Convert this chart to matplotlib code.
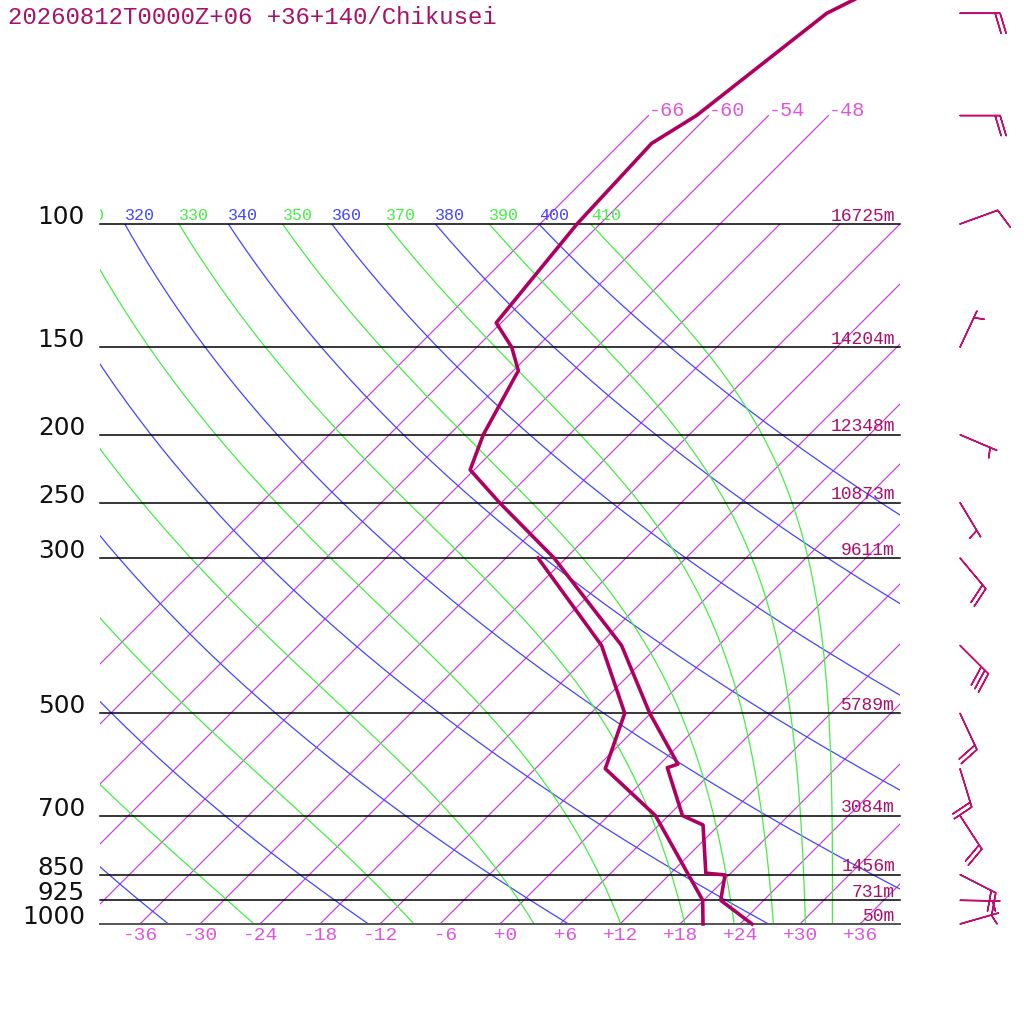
import numpy as np
import matplotlib
matplotlib.use("Agg")
import matplotlib.pyplot as plt
from matplotlib.transforms import Bbox, TransformedBbox

# ---------------- data ----------------
title = "20260812T0000Z+06 +36+140/Chikusei"

# temperature profile (hPa, degC)
temp_p = [1000, 925, 851, 846, 722, 700, 598, 591, 500, 400, 300, 250,
          224.5, 200, 162, 150, 138.4, 100, 76.7, 70, 50, 40]
temp_t = [25.2, 19.7, 17.6, 15.5, 10.4, 7.4, 1.1, 1.8, -6.1, -15.7, -31.2, -42.2,
          -48.4, -50.6, -53.5, -56.5, -60.5, -62.3, -62.9, -61.2, -58.4, -51.6]

# dew point profile (hPa, degC)
dew_p = [1000, 925, 700, 600, 500, 400, 300]
dew_t = [20.3, 17.9, 4.7, -5.0, -8.6, -17.7, -32.8]

# standard levels and geopotential heights (m)
level_p = [1000, 925, 850, 700, 500, 300, 250, 200, 150, 100]
level_h = [50, 731, 1456, 3084, 5789, 9611, 10873, 12348, 14204, 16725]

# winds: direction (deg, from), speed (kt)
wind_p = [1000, 925, 850, 700, 600, 500, 400, 300, 250, 200, 150, 100, 70, 50]
wind_dir = [74, 91, 117, 147, 163, 155, 135, 140, 149, 113, 25, 70, 90, 90]
wind_spd = [5, 5, 20, 20, 20, 20, 30, 20, 5, 5, 5, 10, 20, 20]

# diagram reference lines
isotherms = list(range(-66, 37, 6))
upper_isotherms = [-66, -60, -54, -48]
dry_thetas = list(range(240, 401, 20))
moist_thetas = list(range(250, 411, 20))
temp_ticks = list(range(-36, 37, 6))

# ---------------- styles ----------------
C_ISO = "#c83cdc"
C_ISO_TXT = "#dd55dd"
C_DRY = "#4444ff"
C_MOIST = "#44ee44"
C_PROF = "#b0005f"
C_BARB = "#c0106f"
C_TXT = "#a8106a"
MONO = "Liberation Mono"

W = H = 1024
fig = plt.figure(figsize=(10.24, 10.24), dpi=100)
ax = fig.add_axes([100 / W, (H - 924) / H, 800 / W, 700 / H])
ax.set_xlim(-40, 40)
ax.set_yscale("log")
ax.set_ylim(1000, 100)
ax.axis("off")

SK = 70.0


def skx(t, p):
    return np.asarray(t, float) + SK * np.log10(1000.0 / np.asarray(p, float))


pgrid = np.logspace(3, 2, 300)
clipbox = TransformedBbox(Bbox([[100 / W, 0], [900 / W, 1]]), fig.transFigure)


def top_label(text, x100, color):
    if x100 < -44:
        return
    txt = ax.annotate(text, xy=(x100, 100), xytext=(0, 3),
                      textcoords="offset points", ha="left", va="baseline",
                      color=color, fontsize=12, family=MONO, annotation_clip=False)
    txt.set_clip_box(clipbox)
    txt.set_clip_on(True)


# isotherms
for t in isotherms:
    ax.plot(skx([t, t], [1000, 100]), [1000, 100], color=C_ISO, lw=0.85, zorder=1)
for t in upper_isotherms:
    ax.plot(skx([t, t], [100, 70]), [100, 70], color=C_ISO, lw=0.85, zorder=1,
            clip_on=False)
    ax.annotate(f"{t:+d}", xy=(skx(t, 70), 70), xytext=(0, 0),
                textcoords="offset points", ha="left", va="baseline",
                color=C_ISO_TXT, fontsize=14.5, family=MONO, annotation_clip=False)

# dry adiabats
for th in dry_thetas:
    tt = th * (pgrid / 1000.0) ** 0.286 - 273.15
    ax.plot(skx(tt, pgrid), pgrid, color=C_DRY, lw=0.9, zorder=2)
    top_label(str(th), float(skx(th * 0.1 ** 0.286 - 273.15, 100)), C_DRY)


# pseudo-adiabats (Bolton theta-e)
def theta_e_sat(tc, p):
    tk = tc + 273.15
    es = 6.112 * np.exp(17.67 * tc / (tc + 243.5))
    r = 622.0 * es / (p - es)
    return tk * (1000.0 / p) ** (0.2854 * (1 - 0.00028 * r)) * \
        np.exp((3.376 / tk - 0.00254) * r * (1 + 0.00081 * r))


def moist_T(the, p):
    lo = np.full_like(p, -140.0)
    hi = np.full_like(p, 40.0)
    for _ in range(60):
        mid = 0.5 * (lo + hi)
        f = theta_e_sat(mid, p) > the
        hi = np.where(f, mid, hi)
        lo = np.where(f, lo, mid)
    return 0.5 * (lo + hi)


for the in moist_thetas:
    tt = moist_T(the, pgrid)
    ax.plot(skx(tt, pgrid), pgrid, color=C_MOIST, lw=0.9, zorder=2)
    top_label(str(the), float(skx(tt[-1], 100)), C_MOIST)

# pressure levels
for p, h in zip(level_p, level_h):
    ax.plot([-40, 40], [p, p], color="#555555" if p == 1000 else "black",
            lw=1.4 if p == 1000 else 1.1, zorder=3, clip_on=False)
    ax.annotate(str(p), xy=(-41.5, p), ha="right", va="baseline",
                fontsize=17.8, color="#111111", family="DejaVu Sans",
                annotation_clip=False)
    ax.annotate(f"{h}m", xy=(39.5, p), xytext=(0, 2.5), textcoords="offset points",
                ha="right", va="baseline", fontsize=13, color=C_TXT, family=MONO,
                annotation_clip=False)

# temperature tick labels
for t in temp_ticks:
    ax.annotate(f"{t:+d}".rjust(3), xy=(t, 1000), xytext=(0, -8.6),
                textcoords="offset points", ha="center", va="center",
                fontsize=14, color=C_ISO_TXT, family=MONO, annotation_clip=False)

# profiles
ax.plot(skx(dew_t, dew_p), dew_p, color=C_PROF, lw=2.6, zorder=5, clip_on=False)
ax.plot(skx(temp_t, temp_p), temp_p, color=C_PROF, lw=2.6, zorder=5, clip_on=False)

# wind barbs
wd = np.deg2rad(wind_dir)
spd = np.asarray(wind_spd, float)
u = -spd * np.sin(wd)
v = -spd * np.cos(wd)
ax.barbs(np.full(len(wind_p), 46.0), wind_p, u, v, length=7.6,
         sizes=dict(spacing=0.125, height=0.5, width=0.3, emptybarb=0.0),
         color=C_BARB, linewidth=1.1, clip_on=False, zorder=6)

fig.text(8 / W, 1 - 24 / H, title, ha="left", va="baseline", fontsize=17.3,
         color=C_TXT, family=MONO)

fig.savefig("out.png", dpi=100, facecolor="white")
